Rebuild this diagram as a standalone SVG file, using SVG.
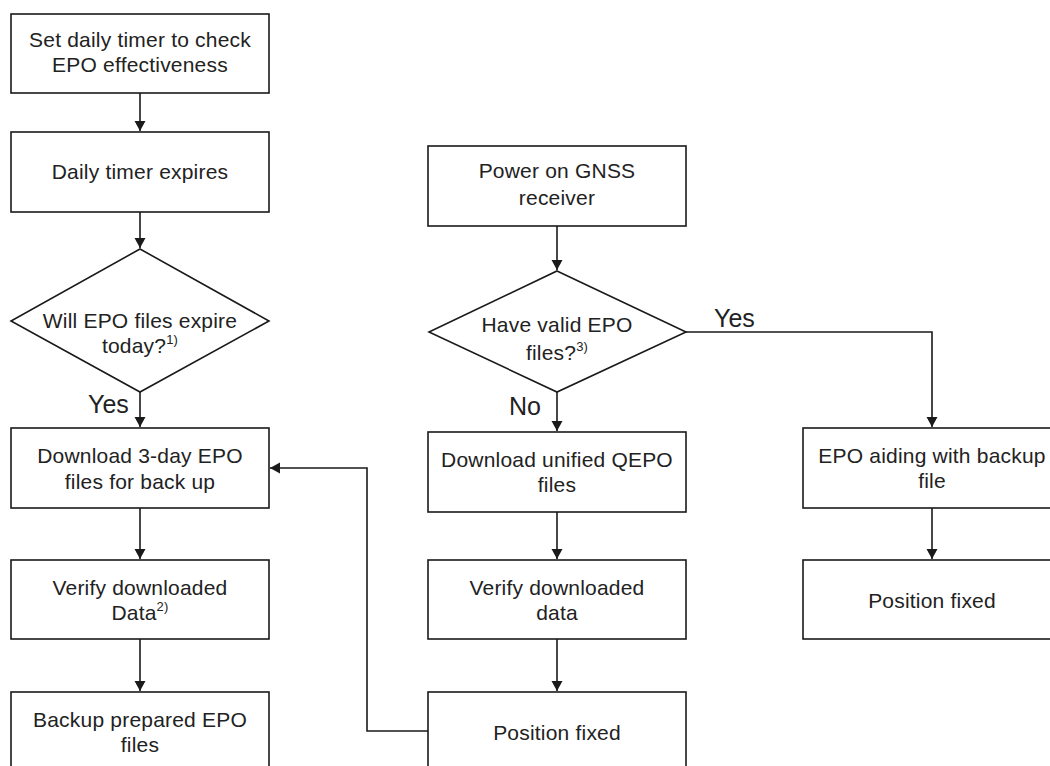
<svg xmlns="http://www.w3.org/2000/svg" width="1050" height="766" viewBox="0 0 1050 766">
  <style>
    .box { fill: #ffffff; stroke: #1a1a1a; stroke-width: 1.6; }
    .t { font-family: "Liberation Sans", Arial, sans-serif; font-size: 21px; fill: #222222; text-anchor: middle; letter-spacing: 0.2px; }
    .sup { font-size: 13px; }
    .lbl { font-family: "Liberation Sans", Arial, sans-serif; font-size: 25px; fill: #222222; }
    .edge { fill: none; stroke: #1a1a1a; stroke-width: 1.6; }
  </style>
  <defs>
    <marker id="arrow" markerUnits="userSpaceOnUse" markerWidth="11" markerHeight="12" refX="10" refY="5.5" orient="auto">
      <path d="M0,0 L10,5.5 L0,11 Z" fill="#1a1a1a"/>
    </marker>
  </defs>
  <rect width="1050" height="766" fill="#ffffff"/>

  <!-- connectors -->
  <g id="connectors">
    <line class="edge" x1="140" y1="93" x2="140" y2="131" marker-end="url(#arrow)"/>
    <line class="edge" x1="140" y1="212" x2="140" y2="248" marker-end="url(#arrow)"/>
    <line class="edge" x1="140" y1="392" x2="140" y2="427" marker-end="url(#arrow)"/>
    <line class="edge" x1="140" y1="508" x2="140" y2="559" marker-end="url(#arrow)"/>
    <line class="edge" x1="140" y1="639" x2="140" y2="691" marker-end="url(#arrow)"/>
    <line class="edge" x1="557" y1="226" x2="557" y2="270" marker-end="url(#arrow)"/>
    <line class="edge" x1="557" y1="392" x2="557" y2="431" marker-end="url(#arrow)"/>
    <line class="edge" x1="557" y1="512" x2="557" y2="559" marker-end="url(#arrow)"/>
    <line class="edge" x1="557" y1="639" x2="557" y2="691" marker-end="url(#arrow)"/>
    <polyline class="edge" points="686,332 932,332 932,427" marker-end="url(#arrow)"/>
    <line class="edge" x1="932" y1="508" x2="932" y2="559" marker-end="url(#arrow)"/>
    <polyline class="edge" points="428,731 367,731 367,468 270,468" marker-end="url(#arrow)"/>
    <text class="lbl" x="88" y="413">Yes</text>
    <text class="lbl" x="714" y="327">Yes</text>
    <text class="lbl" x="509" y="415">No</text>
  </g>

  <!-- left column -->
  <g id="set-timer">
    <rect class="box" x="11" y="14" width="258" height="79"/>
    <text class="t" x="140" y="47">Set daily timer to check</text>
    <text class="t" x="140" y="72">EPO effectiveness</text>
  </g>
  <g id="timer-expires">
    <rect class="box" x="11" y="132" width="258" height="80"/>
    <text class="t" x="140" y="179">Daily timer expires</text>
  </g>
  <g id="expire-today">
    <polygon class="box" points="140,249 269,321 140,392 11,321"/>
    <text class="t" x="140" y="328">Will EPO files expire</text>
    <text class="t" x="140" y="353">today?<tspan class="sup" dy="-9">1)</tspan></text>
  </g>
  <g id="download-3day">
    <rect class="box" x="11" y="428" width="258" height="80"/>
    <text class="t" x="140" y="463">Download 3-day EPO</text>
    <text class="t" x="140" y="489">files for back up</text>
  </g>
  <g id="verify-data-left">
    <rect class="box" x="11" y="560" width="258" height="79"/>
    <text class="t" x="140" y="595">Verify downloaded</text>
    <text class="t" x="140" y="620">Data<tspan class="sup" dy="-9">2)</tspan></text>
  </g>
  <g id="backup-prepared">
    <rect class="box" x="11" y="692" width="258" height="80"/>
    <text class="t" x="140" y="727">Backup prepared EPO</text>
    <text class="t" x="140" y="752">files</text>
  </g>

  <!-- middle column -->
  <g id="power-on">
    <rect class="box" x="428" y="146" width="258" height="80"/>
    <text class="t" x="557" y="178">Power on GNSS</text>
    <text class="t" x="557" y="205">receiver</text>
  </g>
  <g id="valid-epo">
    <polygon class="box" points="557,271 686,332 557,392 429,332"/>
    <text class="t" x="557" y="332">Have valid EPO</text>
    <text class="t" x="557" y="360">files?<tspan class="sup" dy="-9">3)</tspan></text>
  </g>
  <g id="download-qepo">
    <rect class="box" x="428" y="432" width="258" height="80"/>
    <text class="t" x="557" y="467">Download unified QEPO</text>
    <text class="t" x="557" y="492">files</text>
  </g>
  <g id="verify-data-mid">
    <rect class="box" x="428" y="560" width="258" height="79"/>
    <text class="t" x="557" y="595">Verify downloaded</text>
    <text class="t" x="557" y="620">data</text>
  </g>
  <g id="position-fixed-mid">
    <rect class="box" x="428" y="692" width="258" height="80"/>
    <text class="t" x="557" y="740">Position fixed</text>
  </g>

  <!-- right column -->
  <g id="epo-aiding">
    <rect class="box" x="803" y="428" width="258" height="80"/>
    <text class="t" x="932" y="463">EPO aiding with backup</text>
    <text class="t" x="932" y="488">file</text>
  </g>
  <g id="position-fixed-right">
    <rect class="box" x="803" y="560" width="258" height="79"/>
    <text class="t" x="932" y="608">Position fixed</text>
  </g>
</svg>
